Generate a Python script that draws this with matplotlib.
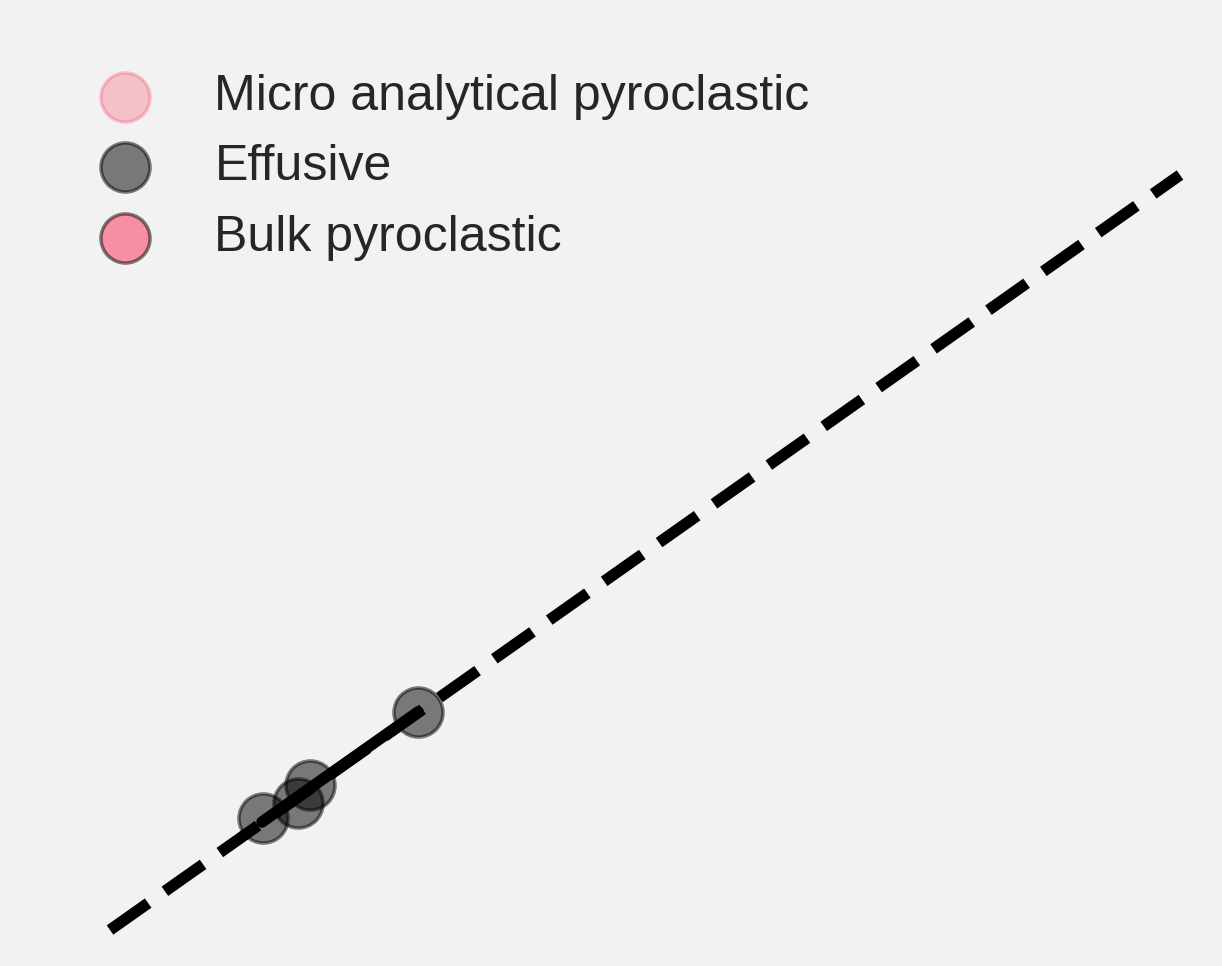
import matplotlib.pyplot as plt
import numpy as np

# effusive samples
effusive_x = [0.143, 0.176, 0.187, 0.288]
effusive_y = [0.148, 0.168, 0.192, 0.289]

# fitted line through effusive samples
fit_x = [0.142, 0.288]
fit_y = [0.143, 0.289]

# 1:1 reference line
ref_x = [0.0, 1.0]
ref_y = [0.0, 1.0]

labels = ["Micro analytical pyroclastic", "Effusive", "Bulk pyroclastic"]
pink = "#fc2c54"

fig = plt.figure(figsize=(12.22, 9.66), dpi=100, facecolor="#f2f2f2")
ax = fig.add_axes([0, 0, 1, 1])
ax.set_facecolor("#f2f2f2")
ax.axis("off")

# pixel -> data mapping chosen so the 1:1 line sits where it does in the picture
ax.set_xlim((0 - 110) / 1070, (1222 - 110) / 1070)
ax.set_ylim((930 - 966) / 755, 930 / 755)

s = 1250
micro = ax.scatter([], [], s=s, color=pink, alpha=0.25, edgecolor=pink, linewidth=2.5, label=labels[0])
eff = ax.scatter(effusive_x, effusive_y, s=s, color="black", alpha=0.5, edgecolor="black",
                 linewidth=2.5, label=labels[1], zorder=2)
bulk = ax.scatter([], [], s=s, color=pink, alpha=0.5, edgecolor="black", linewidth=2.5, label=labels[2])

ax.plot(fit_x, fit_y, color="black", lw=8.2, solid_capstyle="round", zorder=3)
ax.plot(ref_x, ref_y, color="black", lw=8.2, dashes=(4.1, 1.8), zorder=3)

leg = ax.legend(handles=[micro, eff, bulk], loc="upper left", frameon=False,
                bbox_to_anchor=(82 / 1222, 1 - 74 / 966), borderaxespad=0, borderpad=0,
                prop={"family": "Liberation Sans", "size": 36}, labelspacing=0.49,
                handletextpad=0.95, handlelength=1.7)
for t in leg.get_texts():
    t.set_color("#262626")

fig.savefig("out.png", dpi=100, facecolor=fig.get_facecolor())
